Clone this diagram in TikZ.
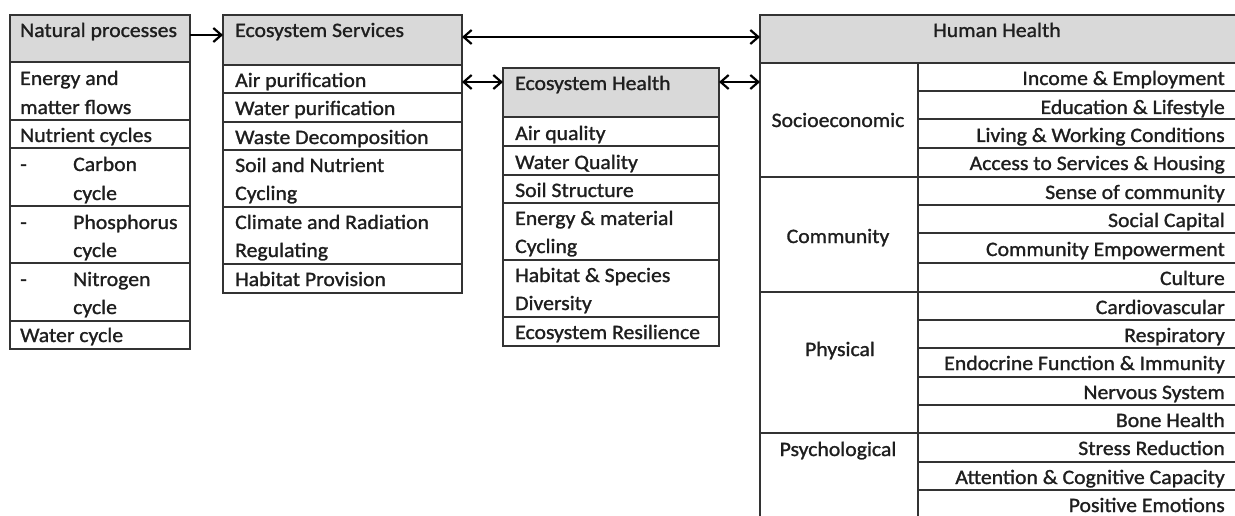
\documentclass[tikz,border=0pt]{standalone}
\usepackage{fontspec}
\setmainfont[FakeStretch=1.06,FakeBold=1.2]{Carlito}
\usetikzlibrary{arrows.meta}
\definecolor{bordc}{HTML}{333333}
\definecolor{headc}{HTML}{D9D9D9}
\definecolor{txtc}{HTML}{1E1E1E}
\tikzset{
  cellbox/.style={draw=bordc, line width=2pt, fill=white, inner sep=0pt, outer sep=0pt, anchor=north west},
  headbox/.style={cellbox, fill=headc},
  lt/.style={font=\fontsize{20.5}{22}\selectfont, text=txtc, inner sep=0pt, anchor=base west},
  rt/.style={lt, anchor=base east},
  ct/.style={lt, anchor=base},
  tipb/.tip={Straight Barb[length=8pt,width=14pt,line width=2.2pt]},
  conn/.style={draw=black, line width=1.9pt, -tipb},
  dconn/.style={draw=black, line width=1.9pt, tipb-tipb}
}
% \cellnode[style]{name}{x1}{y1}{x2}{y2}
\newcommand{\cellnode}[6][cellbox]{\node[#1, minimum width={(#5-#3)*1pt}, minimum height={(#6-#4)*1pt}] (#2) at (#3,#4) {};}
% text helpers: baseline is 7px below visual centre
\newcommand{\tl}[4]{\node[lt] (#1) at (#2,#3+7) {#4};}
\newcommand{\tr}[4]{\node[rt] (#1) at (#2,#3+7) {#4};}
\newcommand{\tc}[4]{\node[ct] (#1) at (#2,#3+7) {#4};}
\begin{document}
\begin{tikzpicture}[x=1pt,y=-1pt]
\useasboundingbox (0,0) rectangle (1235,516);
\begin{scope}
\clip (0,0) rectangle (1235,516);
% ---------- Natural processes ----------
\cellnode[headbox]{np}{10}{15}{190}{62}
\cellnode{np1}{10}{62}{190}{120}
\cellnode{np2}{10}{120}{190}{148}
\cellnode{np3}{10}{148}{190}{206}
\cellnode{np4}{10}{206}{190}{263}
\cellnode{np5}{10}{263}{190}{321}
\cellnode{np6}{10}{321}{190}{349}
\tl{npt}{20}{30}{Natural processes}
\tl{npa}{20}{78}{Energy and}
\tl{npb}{20}{107}{matter flows}
\tl{npc}{20}{135}{Nutrient cycles}
\tl{npd1}{20}{164}{-}
\tl{npd}{73}{164}{Carbon}
\tl{npe}{73}{193}{cycle}
\tl{npf1}{20}{222}{-}
\tl{npf}{73}{222}{Phosphorus}
\tl{npg}{73}{250}{cycle}
\tl{nph1}{20}{279}{-}
\tl{nph}{73}{279}{Nitrogen}
\tl{npi}{73}{307}{cycle}
\tl{npj}{20}{335}{Water cycle}
% ---------- Ecosystem Services ----------
\cellnode[headbox]{es}{223}{15}{462}{65}
\cellnode{es1}{223}{65}{462}{93}
\cellnode{es2}{223}{93}{462}{122}
\cellnode{es3}{223}{122}{462}{150}
\cellnode{es4}{223}{150}{462}{207}
\cellnode{es5}{223}{207}{462}{264}
\cellnode{es6}{223}{264}{462}{293}
\tl{est}{235}{30}{Ecosystem Services}
\tl{esa}{235}{80}{Air purification}
\tl{esb}{235}{108}{Water purification}
\tl{esc}{235}{137}{Waste Decomposition}
\tl{esd}{235}{165}{Soil and Nutrient}
\tl{ese}{235}{193}{Cycling}
\tl{esf}{235}{222}{Climate and Radiation}
\tl{esg}{235}{250}{Regulating}
\tl{esh}{235}{279}{Habitat Provision}
% ---------- Ecosystem Health ----------
\cellnode[headbox]{eh}{503}{68}{719}{117}
\cellnode{eh1}{503}{117}{719}{146}
\cellnode{eh2}{503}{146}{719}{175}
\cellnode{eh3}{503}{175}{719}{203}
\cellnode{eh4}{503}{203}{719}{260}
\cellnode{eh5}{503}{260}{719}{317}
\cellnode{eh6}{503}{317}{719}{346}
\tl{eht}{515}{83}{Ecosystem Health}
\tl{eha}{515}{133}{Air quality}
\tl{ehb}{515}{162}{Water Quality}
\tl{ehc}{515}{190}{Soil Structure}
\tl{ehd}{515}{218}{Energy \& material}
\tl{ehe}{515}{246}{Cycling}
\tl{ehf}{515}{275}{Habitat \& Species}
\tl{ehg}{515}{303}{Diversity}
\tl{ehh}{515}{332}{Ecosystem Resilience}
% ---------- Human Health ----------
\cellnode[headbox]{hh}{760}{15}{1238}{63}
\cellnode{hs}{760}{63}{918}{177}
\cellnode{hc}{760}{177}{918}{292}
\cellnode{hp}{760}{292}{918}{433}
\cellnode{hy}{760}{433}{918}{519}
\foreach \a/\b [count=\i] in {63/91,91/119,119/148,148/177,177/205,205/233,233/263,263/292,292/320,320/348,348/377,377/405,405/433,433/462,462/490,490/519}{
  \cellnode{hr\i}{918}{\a}{1238}{\b}
}
\tc{hht}{997}{30}{Human Health}
\tc{hst}{838}{120}{Socioeconomic}
\tc{hct}{838}{236}{Community}
\tc{hpt}{840}{349}{Physical}
\tc{hyt}{838}{449}{Psychological}
\tr{r1}{1225}{78}{Income \& Employment}
\tr{r2}{1225}{107}{Education \& Lifestyle}
\tr{r3}{1225}{135}{Living \& Working Conditions}
\tr{r4}{1225}{163}{Access to Services \& Housing}
\tr{r5}{1225}{192}{Sense of community}
\tr{r6}{1225}{220}{Social Capital}
\tr{r7}{1225}{249}{Community Empowerment}
\tr{r8}{1225}{278}{Culture}
\tr{r9}{1225}{307}{Cardiovascular}
\tr{r10}{1225}{335}{Respiratory}
\tr{r11}{1225}{363}{Endocrine Function \& Immunity}
\tr{r12}{1225}{392}{Nervous System}
\tr{r13}{1225}{420}{Bone Health}
\tr{r14}{1225}{448}{Stress Reduction}
\tr{r15}{1225}{477}{Attention \& Cognitive Capacity}
\tr{r16}{1225}{505}{Positive Emotions}
\end{scope}
% ---------- connectors ----------
\draw[conn] (np.east |- 0,35) -- (es.west |- 0,35);
\draw[dconn] (es.east |- 0,37) -- (hh.west |- 0,37);
\draw[dconn] (es1.east |- 0,82) -- (eh.west |- 0,82);
\draw[dconn] (eh.east |- 0,82) -- (hs.west |- 0,82);
\end{tikzpicture}
\end{document}
